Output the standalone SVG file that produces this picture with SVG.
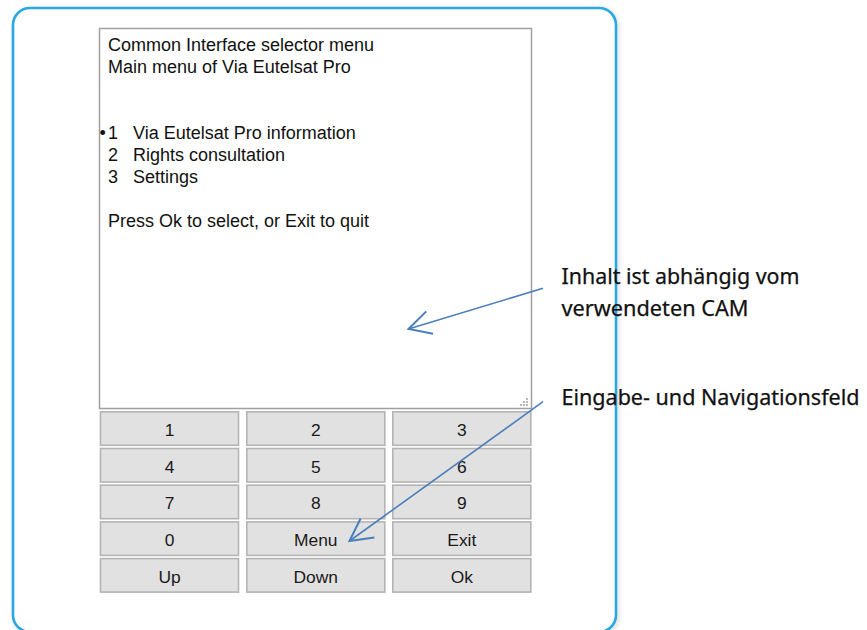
<svg xmlns="http://www.w3.org/2000/svg" width="867" height="630" viewBox="0 0 867 630">
<style>
.scr{font-family:"Liberation Sans",Arial,sans-serif;font-size:18px;fill:#111}
.btn rect{fill:#e1e1e1;stroke:#b4b4b4;stroke-width:1.6}
.btn text{font-family:"Liberation Sans",Arial,sans-serif;font-size:17.4px;fill:#1a1a1a;text-anchor:middle}
.lbl{font-family:"Liberation Sans Narrow","Noto Sans","Liberation Sans",sans-serif;font-size:21px;fill:#111;stroke:#111;stroke-width:0.25}
.conn{stroke:#4a7ebb;stroke-width:1.6;fill:none}
</style>
<defs>
<filter id="sh" x="-5%" y="-5%" width="110%" height="110%">
<feGaussianBlur stdDeviation="2"/>
</filter>
<marker id="ah" markerUnits="userSpaceOnUse" markerWidth="30" markerHeight="30" refX="0" refY="0" viewBox="-20 -12 22 24" orient="auto" overflow="visible">
<path d="M-17.7,-9.4 L0,0 L-17.7,9.4" fill="none" stroke="#4a7ebb" stroke-width="1.6"/>
</marker>
</defs>
<rect width="867" height="630" fill="#fff"/>
<g id="frame">
<rect x="14.5" y="9.5" width="603" height="624" rx="17" fill="none" stroke="#bbb" stroke-width="3" filter="url(#sh)" opacity="0.6"/>
<rect x="13" y="8" width="603" height="624" rx="17" fill="#fff" stroke="#29a9e1" stroke-width="2.6"/>
</g>
<g id="screen">
<rect x="99.5" y="28.5" width="432" height="380" fill="#fff" stroke="#a0a0a0" stroke-width="1.5"/>
<text class="scr" x="108" y="50.5">Common Interface selector menu</text>
<text class="scr" x="108" y="72.5">Main menu of Via Eutelsat Pro</text>
<text class="scr" x="99.5" y="138.5">•</text>
<text class="scr" x="108" y="138.5">1</text>
<text class="scr" x="133" y="138.5">Via Eutelsat Pro information</text>
<text class="scr" x="108" y="160.5">2</text>
<text class="scr" x="133" y="160.5">Rights consultation</text>
<text class="scr" x="108" y="182.5">3</text>
<text class="scr" x="133" y="182.5">Settings</text>
<text class="scr" x="108" y="226.5">Press Ok to select, or Exit to quit</text>
<g fill="#b8b8b8">
<rect x="526" y="398" width="2" height="2"/>
<rect x="523" y="401" width="2" height="2"/><rect x="526" y="401" width="2" height="2"/>
<rect x="520" y="404" width="2" height="2"/><rect x="523" y="404" width="2" height="2"/><rect x="526" y="404" width="2" height="2"/>
</g>
</g>
<g id="btn-1" class="btn"><rect x="100.5" y="411.8" width="138" height="33.5"/><text x="169.5" y="436">1</text></g>
<g id="btn-2" class="btn"><rect x="246.8" y="411.8" width="138" height="33.5"/><text x="315.8" y="436">2</text></g>
<g id="btn-3" class="btn"><rect x="392.8" y="411.8" width="138" height="33.5"/><text x="461.8" y="436">3</text></g>
<g id="btn-4" class="btn"><rect x="100.5" y="448.5" width="138" height="33.5"/><text x="169.5" y="472.7">4</text></g>
<g id="btn-5" class="btn"><rect x="246.8" y="448.5" width="138" height="33.5"/><text x="315.8" y="472.7">5</text></g>
<g id="btn-6" class="btn"><rect x="392.8" y="448.5" width="138" height="33.5"/><text x="461.8" y="472.7">6</text></g>
<g id="btn-7" class="btn"><rect x="100.5" y="485.2" width="138" height="33.5"/><text x="169.5" y="509.4">7</text></g>
<g id="btn-8" class="btn"><rect x="246.8" y="485.2" width="138" height="33.5"/><text x="315.8" y="509.4">8</text></g>
<g id="btn-9" class="btn"><rect x="392.8" y="485.2" width="138" height="33.5"/><text x="461.8" y="509.4">9</text></g>
<g id="btn-0" class="btn"><rect x="100.5" y="521.9" width="138" height="33.5"/><text x="169.5" y="546.1">0</text></g>
<g id="btn-menu" class="btn"><rect x="246.8" y="521.9" width="138" height="33.5"/><text x="315.8" y="546.1">Menu</text></g>
<g id="btn-exit" class="btn"><rect x="392.8" y="521.9" width="138" height="33.5"/><text x="461.8" y="546.1">Exit</text></g>
<g id="btn-up" class="btn"><rect x="100.5" y="558.6" width="138" height="33.5"/><text x="169.5" y="582.8">Up</text></g>
<g id="btn-down" class="btn"><rect x="246.8" y="558.6" width="138" height="33.5"/><text x="315.8" y="582.8">Down</text></g>
<g id="btn-ok" class="btn"><rect x="392.8" y="558.6" width="138" height="33.5"/><text x="461.8" y="582.8">Ok</text></g>
<g id="label-content">
<text class="lbl" x="561.5" y="284.3" textLength="238" lengthAdjust="spacingAndGlyphs">Inhalt ist abhängig vom</text>
<text class="lbl" x="561.5" y="315.7" textLength="187" lengthAdjust="spacingAndGlyphs">verwendeten CAM</text>
</g>
<g id="label-input">
<text class="lbl" x="561.5" y="405" textLength="298" lengthAdjust="spacingAndGlyphs">Eingabe- und Navigationsfeld</text>
</g>
<g id="connectors">
<line class="conn" x1="543" y1="288.3" x2="408.5" y2="329" marker-end="url(#ah)"/>
<line class="conn" x1="543" y1="401.7" x2="349.5" y2="541" marker-end="url(#ah)"/>
</g>
</svg>
